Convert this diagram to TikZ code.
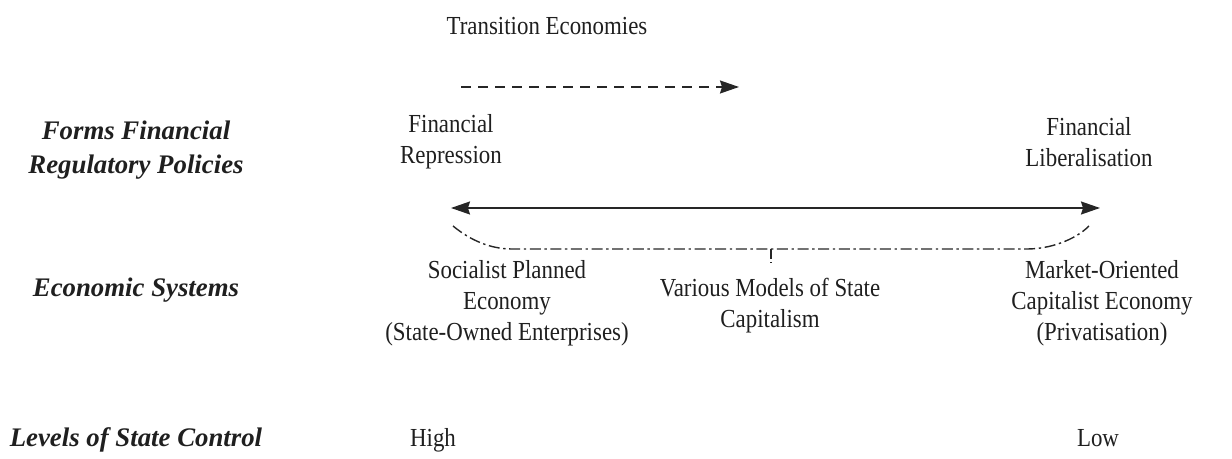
\documentclass[tikz,border=0pt]{standalone}
\usepackage{fontspec}
\setmainfont{Liberation Serif}
\newfontfamily\condfont[FakeStretch=0.88]{Liberation Serif}
\usetikzlibrary{arrows.meta}
\tikzset{
  txt/.style={align=center,inner sep=0pt,font=\condfont\fontsize{13pt}{15.5pt}\selectfont,text=black!88},
  lab/.style={align=center,inner sep=0pt,font=\fontsize{13.4pt}{17pt}\selectfont\bfseries\itshape,text=black!88},
  tip/.style={-{Stealth[length=9.5pt,width=6.5pt,inset=1pt]}},
  dd/.style={line width=0.7pt,dash pattern=on 5.5pt off 1.8pt on 1.2pt off 1.8pt,black!85}
}
\begin{document}
\begin{tikzpicture}[x=0.5pt,y=-0.5pt]
\useasboundingbox (0,0) rectangle (1232,459);
% titles
\node[txt] (te) at (547,26) {Transition Economies};
\coordinate (da) at (461,87);
\coordinate (db) at (739,87);
\draw[tip,line width=0.8pt,dash pattern=on 5pt off 3.5pt,black!85] (da) -- (db);
% left labels
\node[lab] (l1) at (136,150) {Forms Financial\\Regulatory Policies};
\node[lab,anchor=base] (l2) at (136,297) {Economic Systems};
\node[lab,anchor=base] (l3) at (136,447) {Levels of State Control};
% policies
\node[txt] (rep) at (451,142) {Financial\\Repression};
\node[txt] (lib) at (1089,142) {Financial\\Liberalisation};
% main arrow
\coordinate (al) at (451,208);
\coordinate (ar) at (1100,208);
\draw[{Stealth[length=9.5pt,width=6.5pt,inset=1pt]}-{Stealth[length=9.5pt,width=6.5pt,inset=1pt]},line width=0.8pt,black!85] (al) -- (ar);
% dash-dot bracket
\coordinate (c1) at (453,226);
\coordinate (c2) at (512,249);
\coordinate (c3) at (1027,249);
\coordinate (c4) at (1089,226);
\coordinate (tk) at (771,249);
\coordinate (tb) at (771,263);
\draw[dd] (c1) .. controls (470,240) and (490,249) .. (c2) -- (c3) .. controls (1050,249) and (1075,240) .. (c4);
\draw[line width=0.7pt,black!85,dash pattern=on 5pt off 1.6pt] (tk) -- (tb);
% systems
\node[txt] (soc) at (507,303) {Socialist Planned\\Economy\\(State-Owned Enterprises)};
\node[txt] (var) at (770,306) {Various Models of State\\Capitalism};
\node[txt] (mkt) at (1102,303) {Market-Oriented\\Capitalist Economy\\(Privatisation)};
% levels
\node[txt,anchor=base] (hi) at (433,447) {High};
\node[txt,anchor=base] (lo) at (1098,447) {Low};
\end{tikzpicture}
\end{document}
